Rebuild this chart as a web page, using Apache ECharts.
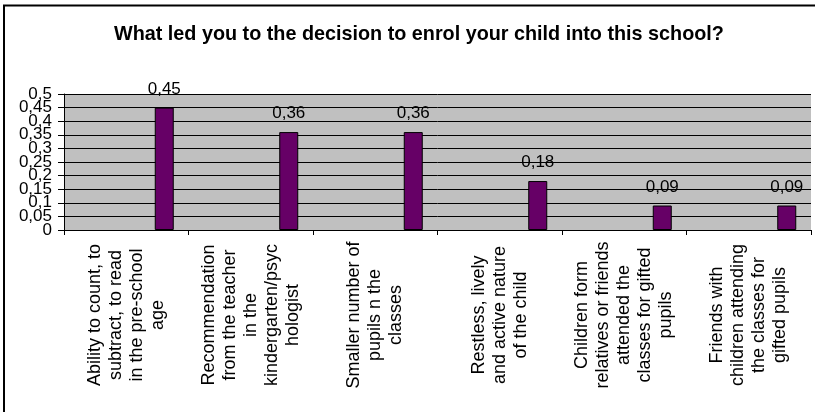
<!DOCTYPE html>
<html>
<head>
<meta charset="utf-8">
<script src="https://cdn.jsdelivr.net/npm/echarts@6/dist/echarts.min.js"></script>
<style>
  html, body { margin: 0; padding: 0; background: #fff; }
  #chart { width: 815px; height: 412px; }
</style>
</head>
<body>
<div id="chart"></div>
<script>
// Survey answers (share of respondents) for each reason
const categories = [
  'Ability to count, to\nsubtract, to read\nin the pre-school\nage',
  'Recommendation\nfrom the teacher\nin the\nkindergarten/psyc\nhologist',
  'Smaller number of\npupils n the\nclasses',
  'Restless, lively\nand active nature\nof the child',
  'Children form\nrelatives or friends\nattended the\nclasses for gifted\npupils',
  'Friends with\nchildren attending\nthe classes for\ngifted pupils'
];
const shares = [0.45, 0.36, 0.36, 0.18, 0.09, 0.09];
// empty first series in the group, keeps each bar on the right of its slot
const spacer = [null, null, null, null, null, null];
const yTicks = { min: 0, max: 0.5, step: 0.05 };

const FONT = 'Liberation Sans, Arial, sans-serif';
const fmt = v => String(+v.toFixed(2)).replace('.', ',');
// the tick labels sit closer than their height, so the odd and even
// steps are labelled by two stacked axes that share the same scale
const isEvenStep = v => Math.abs(Math.round(v / yTicks.step) % 2) === 0;

const yLabelStyle = { margin: 12, fontFamily: FONT, fontSize: 17, color: '#000' };

const chart = echarts.init(document.getElementById('chart'), null, { renderer: 'canvas' });
chart.setOption({
  animation: false,
  backgroundColor: '#ffffff',
  title: {
    text: 'What led you to the decision to enrol your child into this school?',
    left: 109,
    top: 20,
    textStyle: { fontFamily: FONT, fontSize: 19.8, fontWeight: 'bold', color: '#000' }
  },
  graphic: [
    { type: 'line', shape: { x1: 3, y1: 5.5, x2: 815, y2: 5.5 }, style: { stroke: '#000', lineWidth: 2 } },
    { type: 'line', shape: { x1: 4, y1: 5, x2: 4, y2: 412 }, style: { stroke: '#000', lineWidth: 2 } }
  ],
  grid: {
    left: 64, right: 4, top: 94, bottom: 182,
    show: true, backgroundColor: '#c0c0c0', borderWidth: 0
  },
  xAxis: {
    type: 'category',
    data: categories,
    boundaryGap: true,
    axisLine: { show: true, lineStyle: { color: '#000', width: 1 } },
    axisTick: { show: true, length: 5, lineStyle: { color: '#000' } },
    axisLabel: {
      interval: 0,
      rotate: 90,
      align: 'center',
      verticalAlign: 'middle',
      margin: 85,
      fontFamily: FONT,
      fontSize: 18,
      lineHeight: 21,
      color: '#000'
    },
    splitLine: { show: false }
  },
  yAxis: [
    {
      type: 'value',
      position: 'left',
      min: yTicks.min,
      max: yTicks.max,
      interval: yTicks.step,
      axisLine: { show: true, lineStyle: { color: '#000', width: 1 } },
      axisTick: { show: true, length: 6, lineStyle: { color: '#000' } },
      axisLabel: Object.assign({}, yLabelStyle, {
        formatter: v => (isEvenStep(v) ? '' : fmt(v))
      }),
      splitLine: { show: true, lineStyle: { color: '#000', width: 1 } }
    },
    {
      type: 'value',
      position: 'left',
      offset: 0,
      min: yTicks.min,
      max: yTicks.max,
      interval: yTicks.step * 2,
      axisLine: { show: false },
      axisTick: { show: false },
      axisLabel: Object.assign({}, yLabelStyle, { formatter: v => fmt(v) }),
      splitLine: { show: false }
    }
  ],
  series: [
    {
      name: 'spacer',
      type: 'bar',
      data: spacer,
      barWidth: 19,
      barGap: '300%',
      silent: true
    },
    {
      name: 'Share',
      type: 'bar',
      data: shares,
      barWidth: 19,
      barGap: '300%',
      itemStyle: { color: '#660066', borderColor: '#000', borderWidth: 1 },
      label: {
        show: true,
        position: 'top',
        distance: 10,
        fontFamily: FONT,
        fontSize: 17,
        color: '#000',
        formatter: p => fmt(p.value)
      }
    }
  ]
});
</script>
</body>
</html>
